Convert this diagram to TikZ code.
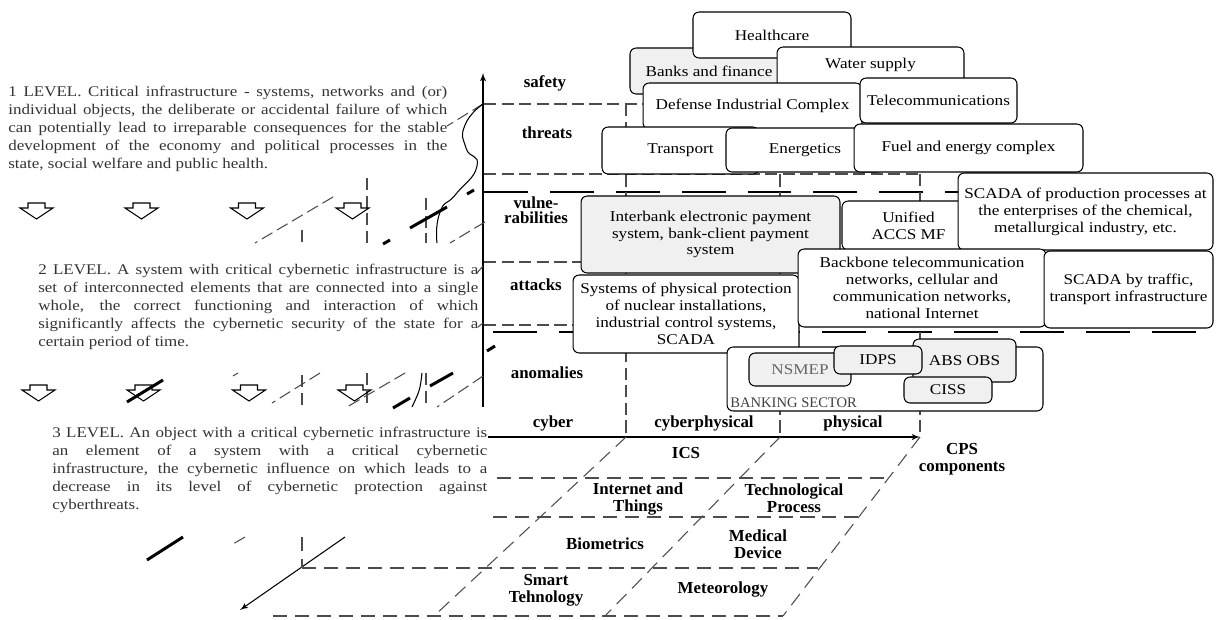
\documentclass[tikz,border=0pt]{standalone}
\usepackage{fontspec}
\setmainfont{Liberation Serif}
\newfontfamily\wideserif[FakeStretch=1.15]{Liberation Serif}
\usetikzlibrary{arrows}
\setlength{\parindent}{0pt}

\begin{document}
\begin{tikzpicture}[x=0.02cm,y=-0.02cm,
		box/.style={draw,rounded corners=3.5pt,fill=white,align=center,inner sep=1pt,line width=0.6pt,font=\wideserif\fontsize{8.5}{9.6}\selectfont},
		gbox/.style={box,fill=black!6},
		lbl/.style={align=center,inner sep=0pt,font=\bfseries\fontsize{9.6}{9.8}\selectfont},
		para/.style={anchor=north west,align=justify,inner sep=0pt,text=black!80,font=\wideserif\fontsize{8.4}{10.2}\selectfont},
		ax/.style={line width=0.6pt},
		lvl/.style={black!70,line width=0.6pt,dash pattern=on 7pt off 3pt},
		grd/.style={black!70,line width=0.6pt,dash pattern=on 8pt off 4.5pt},
		thk/.style={line width=1.7pt,dash pattern=on 25pt off 12.5pt},
		heavy/.style={line width=1.7pt},
		>=latex']
	\useasboundingbox (0,0) rectangle (1217,619);
	%% define axes
	\coordinate (ybot) at (483,407);
	\coordinate (ytop) at (483,73);
	\coordinate (xbeg) at (488,437);
	\coordinate (xend) at (920,437);
	\coordinate (zbeg) at (345,537);
	\coordinate (zend) at (240,610);
	\draw[->,ax] (ybot) -- (ytop);
	\draw[->,ax] (xbeg) -- (xend);
	\draw[->,ax] (zbeg) -- (zend);
	%% level borders
	\draw[lvl] (484,104) -- (780,104);
	\draw[lvl] (484,174) -- (920,174);
	\draw[lvl] (484,262) -- (600,262);
	\draw[lvl] (484,325) -- (600,325);
	\draw[thk] (484,192) -- (1200,192);
	\draw[thk] (493,332) -- (1201,332);
	\draw[lvl] (626,104) -- (626,437);
	\draw[lvl] (780,104) -- (780,437);
	\draw[lvl] (920,174) -- (920,437);
	%% bottom plane
	\draw[grd] (497,478) -- (890,478);
	\draw[grd] (493,517) -- (864,517);
	\draw[grd] (302,568) -- (818,568);
	\draw[grd] (273,616) -- (783,616);
	\draw[grd] (626,437) -- (434,616);
	\draw[grd] (780,437) -- (605,616);
	\draw[grd] (920,437) -- (783,616);
	\draw[grd] (302,537) -- (302,568);
	%% pieces behind the texts
	\draw[lvl] (483,104) -- (447,126);
	\draw[lvl] (333,197) -- (255,243);
	\draw[lvl] (485,222) -- (450,243);
	\draw[lvl] (302,230) -- (302,243);
	\draw[lvl] (367,178) -- (367,243);
	\draw[lvl] (426,198) -- (426,243);
	\draw[heavy] (474,190) -- (467,194);
	\draw[heavy] (447,207) -- (410,228);
	\draw[heavy] (390,240) -- (383,244);
	\draw[ax] plot [smooth, tension=1] coordinates {(483,104) (465,125) (466,148) (477,166) (456,194) (440,212) (437,243)};
	\draw[lvl] (483,266) -- (477,273);
	\draw[lvl] (483,323) -- (478,327);
	\draw[heavy] (495,346) -- (487,351);
	\draw[lvl] (238,373) -- (233,376);
	\draw[lvl] (320,373) -- (272,403);
	\draw[lvl] (405,373) -- (347,407);
	\draw[lvl] (483,376) -- (437,407);
	\draw[lvl] (302,375) -- (302,407);
	\draw[lvl] (367,373) -- (367,407);
	\draw[lvl] (426,373) -- (426,407);
	\draw[heavy] (453,373) -- (430,386);
	\draw[heavy] (410,398) -- (393,408);
	\draw[heavy] (163,380) -- (127,402);
	\draw[ax] (422,373) .. controls (420,390) .. (412,407);
	\draw[heavy] (183,537) -- (147,560);
	\draw[lvl] (245,537) -- (233,544);
	%% hollow arrows
	\draw[ax] (28,203) -- ++(17,0) -- ++(0,5) -- ++(8,0) -- ++(-16.5,11) -- ++(-16.5,-11) -- ++(8,0) -- cycle;
	\draw[ax] (133,203) -- ++(17,0) -- ++(0,5) -- ++(8,0) -- ++(-16.5,11) -- ++(-16.5,-11) -- ++(8,0) -- cycle;
	\draw[ax] (238.5,203) -- ++(17,0) -- ++(0,5) -- ++(8,0) -- ++(-16.5,11) -- ++(-16.5,-11) -- ++(8,0) -- cycle;
	\draw[ax] (344,203) -- ++(17,0) -- ++(0,5) -- ++(8,0) -- ++(-16.5,11) -- ++(-16.5,-11) -- ++(8,0) -- cycle;
	\draw[ax] (30,385) -- ++(17,0) -- ++(0,5) -- ++(8,0) -- ++(-16.5,11) -- ++(-16.5,-11) -- ++(8,0) -- cycle;
	\draw[ax] (135,385) -- ++(17,0) -- ++(0,5) -- ++(8,0) -- ++(-16.5,11) -- ++(-16.5,-11) -- ++(8,0) -- cycle;
	\draw[ax] (240.5,385) -- ++(17,0) -- ++(0,5) -- ++(8,0) -- ++(-16.5,11) -- ++(-16.5,-11) -- ++(8,0) -- cycle;
	\draw[ax] (346,385) -- ++(17,0) -- ++(0,5) -- ++(8,0) -- ++(-16.5,11) -- ++(-16.5,-11) -- ++(8,0) -- cycle;
	%% level texts
	\node (lvlone) at (8,86) [para,text width=8.78cm] {1 LEVEL. Critical infrastructure - systems, networks and (or)\linebreak individual objects, the deliberate or accidental failure of which\linebreak can potentially lead to irreparable consequences for the stable\linebreak development of the economy and political processes in the\linebreak state, social welfare and public health.};
	\node (lvltwo) at (38,264) [para,text width=8.8cm] {2 LEVEL. A system with critical cybernetic infrastructure is a\linebreak set of interconnected elements that are connected into a single\linebreak whole, the correct functioning and interaction of which\linebreak significantly affects the cybernetic security of the state for a\linebreak certain period of time.};
	\node (lvlthree) at (52,427) [para,text width=8.7cm] {3 LEVEL. An object with a critical cybernetic infrastructure is\linebreak an element of a system with a critical cybernetic\linebreak infrastructure, the cybernetic influence on which leads to a\linebreak decrease in its level of cybernetic protection against\linebreak cyberthreats.};
	%% axis labels
	\node (safety) at (545,83) [lbl] {safety};
	\node (threats) at (547,133) [lbl] {threats};
	\node (vuln) at (536,210) [lbl,font=\bfseries\fontsize{9.6}{8.6}\selectfont] {vulne-\\rabilities};
	\node (attacks) at (536,285) [lbl] {attacks};
	\node (anomalies) at (547,373) [lbl] {anomalies};
	\node (cyber) at (553,423) [lbl] {cyber};
	\node (cyberphys) at (704,423) [lbl] {cyberphysical};
	\node (physical) at (853,423) [lbl] {physical};
	\node (cps) at (962,459) [lbl] {CPS\\components};
	%% bottom plane labels
	\node (ics) at (686,453) [lbl] {ICS};
	\node (iot) at (638,499) [lbl] {Internet and\\Things};
	\node (techproc) at (794,498) [lbl] {Technological\\Process};
	\node (biom) at (605,544) [lbl] {Biometrics};
	\node (meddev) at (758,544) [lbl] {Medical\\Device};
	\node (smart) at (546,590) [lbl] {Smart\\Tehnology};
	\node (meteo) at (723,589) [lbl] {Meteorology};
	%% sectors
	\node (banks) at (709,71) [gbox,minimum width=3.16cm,minimum height=0.92cm] {Banks and finance};
	\node (health) at (772,35) [box,minimum width=3.16cm,minimum height=0.92cm] {Healthcare};
	\node (water) at (870.5,75) [box,minimum width=3.74cm,minimum height=1.12cm,
		label={[anchor=north,yshift=-3pt,font=\wideserif\fontsize{8.5}{9.6}\selectfont]90:Water supply}] {};
	\node (defense) at (752.5,106) [box,minimum width=4.38cm,minimum height=0.92cm] {Defense Industrial Complex};
	\node (telecom) at (938.5,100.5) [box,minimum width=3.14cm,minimum height=0.9cm] {Telecommunications};
	\node (transport) at (680.5,150.5) [box,minimum width=3.14cm,minimum height=0.94cm] {Transport};
	\node (energy) at (805,150) [box,minimum width=3.16cm,minimum height=0.88cm] {Energetics};
	\node (fuel) at (968.5,148) [box,minimum width=4.58cm,minimum height=0.96cm] {Fuel and energy complex};
	%% systems
	\node (interbank) at (710.5,234.5) [gbox,minimum width=5.18cm,minimum height=1.54cm] {Interbank electronic payment\\system, bank-client payment\\system};
	\node (unified) at (908.5,225.5) [box,minimum width=2.66cm,minimum height=0.98cm] {Unified\\ACCS MF};
	\node (scadaprod) at (1085.5,211.5) [box,minimum width=5.1cm,minimum height=1.54cm] {SCADA of production processes at\\the enterprises of the chemical,\\metallurgical industry, etc.};
	\node (physprot) at (686,314) [box,minimum width=4.52cm,minimum height=1.56cm] {Systems of physical protection\\of nuclear installations,\\industrial control systems,\\SCADA};
	\node (backbone) at (922,288) [box,minimum width=4.96cm,minimum height=1.56cm] {Backbone telecommunication\\networks, cellular and\\communication networks,\\national Internet};
	\node (scadatraf) at (1128.5,289.5) [box,minimum width=3.38cm,minimum height=1.54cm] {SCADA by traffic,\\transport infrastructure};
	%% banking sector
	\node (banking) at (885,379) [box,minimum width=6.32cm,minimum height=1.28cm] {};
	\node (banklbl) at (banking.south west) [anchor=south west,inner sep=2pt,text=black!75,font=\fontsize{8.3}{9}\selectfont] {BANKING SECTOR};
	\node (nsmep) at (800,369.5) [gbox,minimum width=2.04cm,minimum height=0.66cm,text=black!60] {NSMEP};
	\node (absobs) at (964.5,360.5) [gbox,minimum width=2.06cm,minimum height=0.86cm] {ABS OBS};
	\node (idps) at (878,360) [gbox,minimum width=1.76cm,minimum height=0.56cm] {IDPS};
	\node (ciss) at (948,390) [gbox,minimum width=1.76cm,minimum height=0.52cm] {CISS};
\end{tikzpicture}
\end{document}
